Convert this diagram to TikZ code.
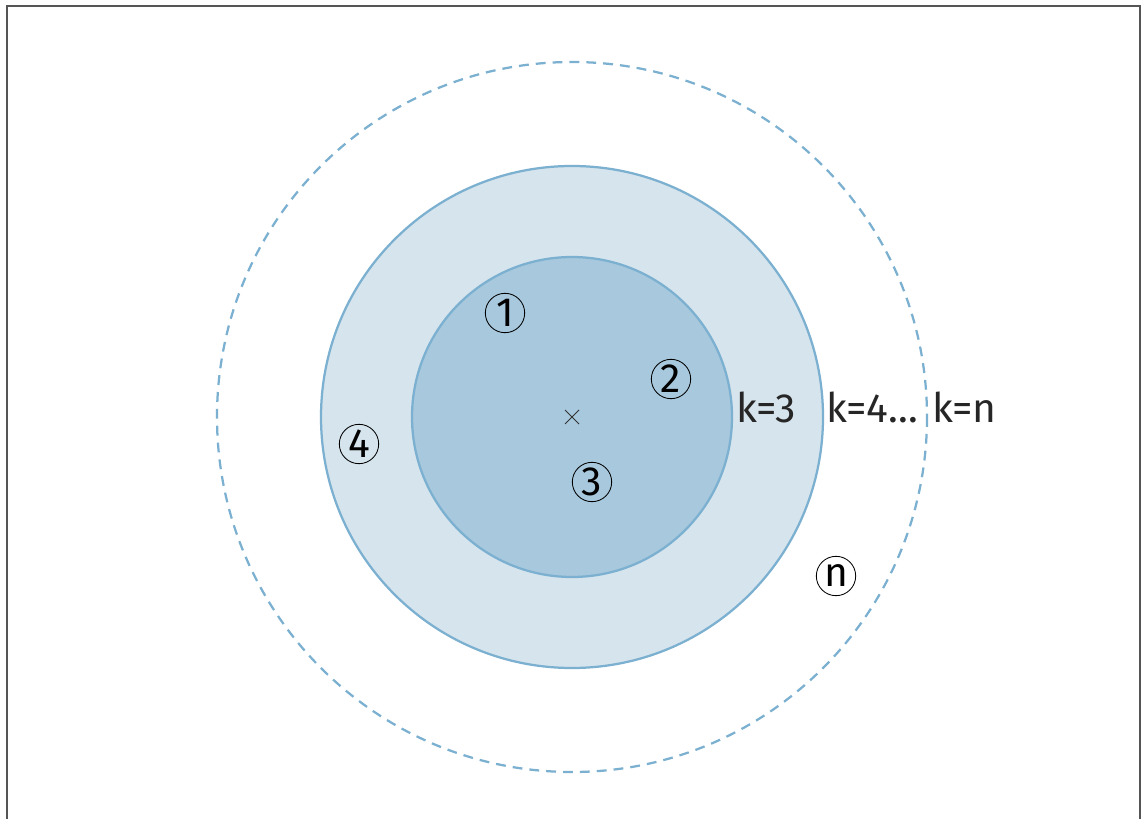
\documentclass[tikz,border=0pt]{standalone}
\usepackage{fontspec}
\usetikzlibrary{calc}
\setmainfont{Fira Sans}
\definecolor{ringline}{HTML}{7BB0D0}
\definecolor{innerfill}{HTML}{A8C8DD}
\definecolor{outerfill}{HTML}{D6E4ED}
\definecolor{framegray}{HTML}{555555}
\begin{document}
\begin{tikzpicture}[
    x=0.025cm, y=-0.025cm,
    ring/.style={draw=ringline, line width=1.6pt},
    region/.style={circle, draw, line width=0.6pt, inner sep=0pt, minimum size=28pt, font=\fontsize{29}{29}\selectfont},
    klabel/.style={font=\fontsize{29}{29}\selectfont, text=black!85, inner sep=0pt}
]
\useasboundingbox (0,0) rectangle (1142,819);

% frame, open at the bottom
\draw[framegray, line width=1.4pt] (7,819) -- (7,6) -- (1140,6) -- (1140,819);

\coordinate (centre) at (572,417);

% rings
\draw[ring, dash pattern=on 7pt off 5pt] (centre) circle[radius=355];
\filldraw[ring, fill=outerfill] (centre) circle[radius=251];
\filldraw[ring, fill=innerfill] (centre) circle[radius=160];

% centre mark
\draw[black!80, line width=0.6pt] ($(centre)+(-7,-7)$) -- ($(centre)+(7,7)$)
    ($(centre)+(-7,7)$) -- ($(centre)+(7,-7)$);

% numbered regions
\node[region] (r1) at (505,313) {1};
\node[region] (r2) at (671,379) {2};
\node[region] (r3) at (592,482) {3};
\node[region] (r4) at (359,444) {4};
\node[region] (rn) at (836,576) {n};

% k labels
\node[klabel, anchor=west] (k3) at (736,407) {k=3};
\node[klabel, anchor=west] (k4) at (826,407) {k=4...};
\node[klabel, anchor=west] (kn) at (932,407) {k=n};

\end{tikzpicture}
\end{document}
